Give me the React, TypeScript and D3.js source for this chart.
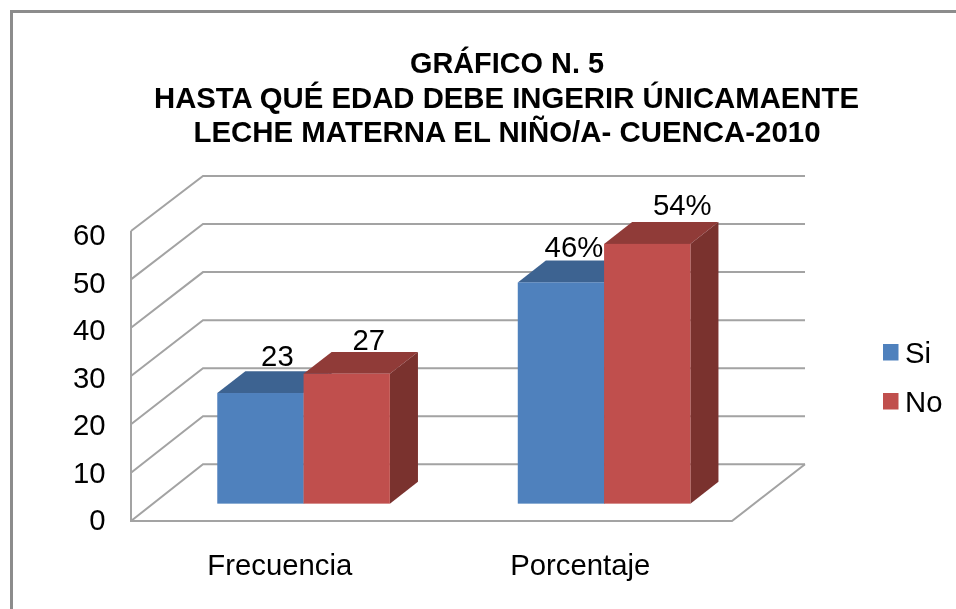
import React from "react";
import * as d3 from "d3";

const titleLines = ["GRÁFICO N. 5", "HASTA QUÉ EDAD DEBE INGERIR ÚNICAMAENTE", "LECHE MATERNA EL NIÑO/A- CUENCA-2010"];
const categories = ["Frecuencia", "Porcentaje"];
const seriesNames = ["Si", "No"];
const siValues = [23, 46];
const noValues = [27, 54];
const siLabels = ["23", "46%"];
const noLabels = ["27", "54%"];
const yTicks = [0, 10, 20, 30, 40, 50, 60];

const W = 956, H = 609;
const FONT = "'Liberation Sans', Arial, sans-serif";
const GRID = "#a3a3a3";
const LABEL_SIZE = 29.3;
const COLORS = [
  { front: "#4f81bd", top: "#3e6391", side: "#355a86" },
  { front: "#c0504d", top: "#903b38", side: "#7a302e" },
];

// 3D projection: floor depth vector from the front plane to the back wall
const DX = 72, DY = -56;
const frontY = d3.scaleLinear().domain([0, 60]).range([521, 231]);
const backY = d3.scaleLinear().domain([0, 60]).range([464.3, 176]);
const tickLabelY = d3.scaleLinear().domain([0, 60]).range([530, 245]);
const x0 = d3.scaleBand<string>().domain(categories).range([131, 732]);
const barDepthStart = 0.31, barDepthEnd = 0.70;
const barWidth = 86.3;
const barBase = frontY(0) + DY * barDepthStart;
const barH = d3.scaleLinear().domain([0, 60]).range([0, 288.6]);
const labelNudge = [[17, -27], [22, -24], [13, -25], [35, -29]];
const titleY = [73, 108, 142];
const titleLength = [194, 705, 627];

function poly(pts: number[][]) {
  return d3.line()(pts as [number, number][]) + "Z";
}

export default function App() {
  const bars = categories.flatMap((c, ci) =>
    seriesNames.map((s, si) => {
      const v = si === 0 ? siValues[ci] : noValues[ci];
      const center = x0(c)! + x0.bandwidth() / 2 + DX * barDepthStart;
      const xl = center + (si - 1) * barWidth;
      const xr = xl + barWidth;
      const yt = barBase - barH(v);
      const dx = DX * (barDepthEnd - barDepthStart), dy = DY * (barDepthEnd - barDepthStart);
      return { key: c + s, v, si, ci, xl, xr, yt, dx, dy, label: si === 0 ? siLabels[ci] : noLabels[ci] };
    })
  );
  return (
    <svg width={W} height={H} viewBox={`0 0 ${W} ${H}`} style={{ position: "absolute", left: 0, top: 0, background: "#fff" }} fontFamily={FONT}>
      <defs>
        <filter id="soft" x="-5%" y="-5%" width="110%" height="110%"><feGaussianBlur stdDeviation="0.5" /></filter>
      </defs>
      <path d={`M11.5 609V11.5H956`} fill="none" stroke="#8c8c8c" strokeWidth={3} />
      <g filter="url(#soft)">
        <g fontSize={29.5} fontWeight={700} textAnchor="middle" fill="#000">
          {titleLines.map((t, i) => (
            <text key={t} x={[507, 506.5, 507][i]} y={titleY[i]} textLength={titleLength[i]} lengthAdjust="spacingAndGlyphs">{t}</text>
          ))}
        </g>
        <g stroke={GRID} strokeWidth={2} fill="none">
          {yTicks.map((t) => (
            <path key={t} d={`M131 ${frontY(t)}L${131 + DX} ${backY(t)}H805`} />
          ))}
          <path d={`M131 ${frontY(60)}V${frontY(0)}H732L805 ${backY(0)}`} />
        </g>
        {bars.map((b) => (
          <g key={b.key}>
            <path d={poly([[b.xl, b.yt], [b.xr, b.yt], [b.xr + b.dx, b.yt + b.dy], [b.xl + b.dx, b.yt + b.dy]])} fill={COLORS[b.si].top} />
            <path d={poly([[b.xr, b.yt], [b.xr + b.dx, b.yt + b.dy], [b.xr + b.dx, barBase + b.dy], [b.xr, barBase]])} fill={COLORS[b.si].side} />
            <rect x={b.xl} y={b.yt} width={barWidth} height={barBase - b.yt} fill={COLORS[b.si].front} />
          </g>
        ))}
        <g fontSize={LABEL_SIZE} fill="#000" textAnchor="middle">
          {bars.map((b, i) => (
            <text key={b.key} x={(b.xl + b.xr) / 2 + labelNudge[i][0]} y={b.yt + labelNudge[i][1]}>{b.label}</text>
          ))}
        </g>
        <g fontSize={LABEL_SIZE} fill="#000" textAnchor="end">
          {yTicks.map((t) => (
            <text key={t} x={105.5} y={tickLabelY(t)}>{t}</text>
          ))}
        </g>
        <g fontSize={LABEL_SIZE} fill="#000" textAnchor="middle">
          {categories.map((c) => (
            <text key={c} x={x0(c)! + x0.bandwidth() / 2 - 1.5} y={575}>{c}</text>
          ))}
        </g>
        {seriesNames.map((s, i) => (
          <g key={s}>
            <rect x={883} y={344 + i * 49} width={15.5} height={16.5} fill={COLORS[i].front} />
            <text x={905} y={362.5 + i * 49} fontSize={LABEL_SIZE} fill="#000">{s}</text>
          </g>
        ))}
      </g>
    </svg>
  );
}
